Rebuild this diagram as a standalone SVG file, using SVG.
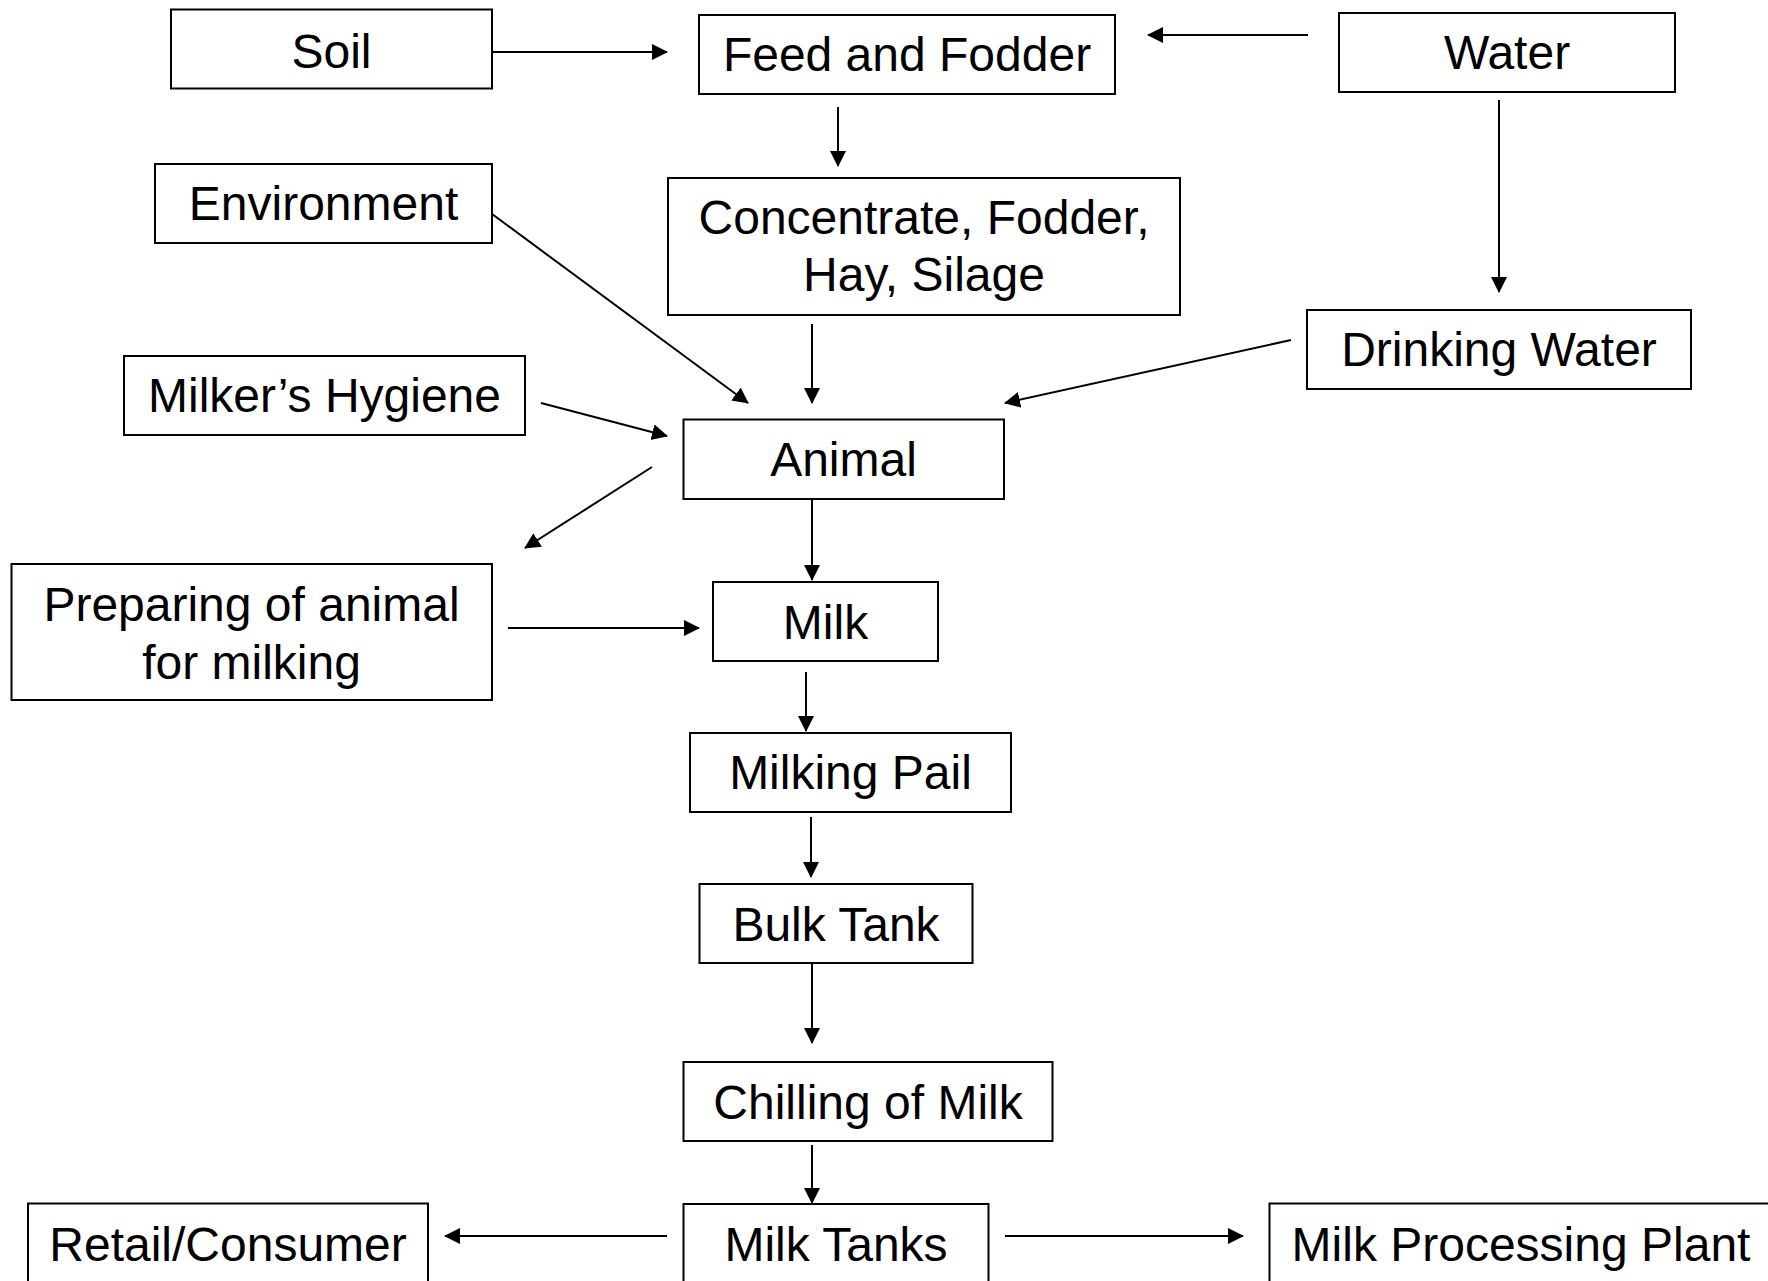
<svg xmlns="http://www.w3.org/2000/svg" width="1768" height="1281" viewBox="0 0 1768 1281">
<style>
.box{fill:#fff;stroke:#000;stroke-width:2}
.lbl{font-family:"Liberation Sans",Arial,sans-serif;font-size:48px;fill:#000;text-anchor:middle}
.edge{stroke:#000;stroke-width:2;fill:none;marker-end:url(#ah)}
</style>
<defs>
<marker id="ah" markerUnits="userSpaceOnUse" markerWidth="17" markerHeight="17" refX="15" refY="8" orient="auto">
<path d="M0,0 L16,8 L0,16 z" fill="#000"/>
</marker>
</defs>
<rect width="1768" height="1281" fill="#fff"/>
<g id="connectors">
<line class="edge" x1="492" y1="52" x2="667" y2="52"/>
<line class="edge" x1="1308" y1="35" x2="1148" y2="35"/>
<line class="edge" x1="838" y1="107" x2="838" y2="166"/>
<line class="edge" x1="1499" y1="100" x2="1499" y2="292"/>
<line class="edge" x1="492" y1="214" x2="748" y2="403"/>
<line class="edge" x1="812" y1="324" x2="812" y2="403"/>
<line class="edge" x1="1291" y1="340" x2="1005" y2="403"/>
<line class="edge" x1="541" y1="403" x2="667" y2="436"/>
<line class="edge" x1="652" y1="467" x2="525" y2="548"/>
<line class="edge" x1="812" y1="499" x2="812" y2="580"/>
<line class="edge" x1="508" y1="628" x2="699" y2="628"/>
<line class="edge" x1="806" y1="672" x2="806" y2="731"/>
<line class="edge" x1="811" y1="817" x2="811" y2="877"/>
<line class="edge" x1="812" y1="963" x2="812" y2="1043"/>
<line class="edge" x1="812" y1="1145" x2="812" y2="1203"/>
<line class="edge" x1="667" y1="1236" x2="445" y2="1236"/>
<line class="edge" x1="1005" y1="1236" x2="1243" y2="1236"/>
</g>
<g id="soil"><rect class="box" x="171" y="9.5" width="321" height="79"/><text class="lbl" x="331.5" y="67.5">Soil</text></g>
<g id="feed"><rect class="box" x="699" y="15" width="416" height="79"/><text class="lbl" x="907" y="71">Feed and Fodder</text></g>
<g id="water"><rect class="box" x="1339" y="13" width="336" height="79"/><text class="lbl" x="1507" y="69">Water</text></g>
<g id="environment"><rect class="box" x="155" y="164" width="337" height="79"/><text class="lbl" x="323.5" y="220">Environment</text></g>
<g id="concentrate"><rect class="box" x="668" y="178" width="512" height="137"/><text class="lbl" x="924" y="233.5">Concentrate, Fodder,</text><text class="lbl" x="924" y="290.5">Hay, Silage</text></g>
<g id="drinking-water"><rect class="box" x="1307" y="310" width="384" height="79"/><text class="lbl" x="1499" y="365.5">Drinking Water</text></g>
<g id="milkers-hygiene"><rect class="box" x="124" y="356" width="401" height="79"/><text class="lbl" x="324.5" y="412">Milker’s Hygiene</text></g>
<g id="animal"><rect class="box" x="683.5" y="419.5" width="320.5" height="79.5"/><text class="lbl" x="843.5" y="476">Animal</text></g>
<g id="preparing"><rect class="box" x="11.5" y="564" width="480.5" height="136"/><text class="lbl" x="251.5" y="620.5">Preparing of animal</text><text class="lbl" x="251.5" y="678.5">for milking</text></g>
<g id="milk"><rect class="box" x="713" y="582" width="225" height="79"/><text class="lbl" x="825.5" y="639">Milk</text></g>
<g id="milking-pail"><rect class="box" x="690" y="733" width="321" height="79"/><text class="lbl" x="850.5" y="788.5">Milking Pail</text></g>
<g id="bulk-tank"><rect class="box" x="699.5" y="884" width="273" height="79"/><text class="lbl" x="836" y="941">Bulk Tank</text></g>
<g id="chilling"><rect class="box" x="683.5" y="1062" width="369" height="79"/><text class="lbl" x="868" y="1119">Chilling of Milk</text></g>
<g id="milk-tanks"><rect class="box" x="683.5" y="1204" width="305" height="100"/><text class="lbl" x="836" y="1260.5">Milk Tanks</text></g>
<g id="retail"><rect class="box" x="28" y="1203.5" width="400" height="100"/><text class="lbl" x="228" y="1261">Retail/Consumer</text></g>
<g id="processing"><rect class="box" x="1269.5" y="1203.5" width="520" height="100"/><text class="lbl" x="1521" y="1260.5">Milk Processing Plant</text></g>
</svg>
